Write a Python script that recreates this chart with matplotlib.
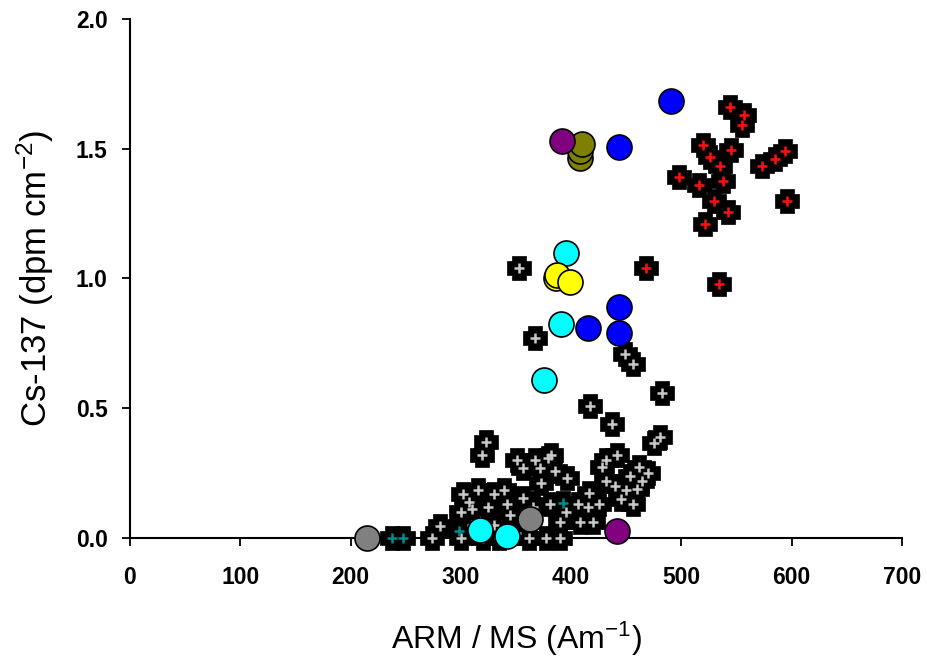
import matplotlib
matplotlib.use("Agg")
import matplotlib.pyplot as plt
from matplotlib.path import Path
import numpy as np

plt.rcParams['mathtext.default'] = 'regular'

# ---- data ----
# black crosses with grey centre
grey_x = [353, 367, 449, 456, 482, 417, 437, 481, 475, 323, 319,
          442, 432, 428, 462, 453, 464, 432, 450, 416, 406, 425, 456, 381,
          396, 385, 379, 408, 377, 274, 281, 307, 316, 325, 302, 339, 342,
          356, 351, 367, 382, 372, 356, 390, 362, 350, 330, 310, 300, 335,
          345, 365, 395, 420, 440, 445, 470, 460, 415, 330, 300, 310, 320,
          390, 373]
grey_y = [1.04, 0.77, 0.71, 0.67, 0.56, 0.51, 0.44, 0.39, 0.365, 0.37, 0.32,
          0.32, 0.30, 0.275, 0.275, 0.24, 0.22, 0.22, 0.185, 0.175, 0.13, 0.13, 0.13, 0.13,
          0.23, 0.26, 0.31, 0.06, 0.0, 0.0, 0.045, 0.14, 0.185, 0.12, 0.17, 0.185, 0.13,
          0.155, 0.30, 0.30, 0.32, 0.27, 0.27, 0.0, 0.0, 0.02, 0.05, 0.05, 0.0, 0.0,
          0.09, 0.12, 0.10, 0.06, 0.20, 0.15, 0.25, 0.19, 0.12, 0.17, 0.10, 0.11, 0.0,
          0.06, 0.21]
# black crosses with teal centre
teal_x = [238, 248, 298, 393]
teal_y = [0.0, 0.0, 0.025, 0.135]
# black crosses with red centre
red_x = [544, 555, 557, 520, 545, 535, 573, 585, 594, 498, 516, 538, 530,
         542, 521, 596, 468, 534, 526]
red_y = [1.66, 1.59, 1.63, 1.515, 1.495, 1.435, 1.435, 1.46, 1.49, 1.39, 1.36,
         1.375, 1.30, 1.255, 1.21, 1.30, 1.04, 0.98, 1.47]
# circles
grey_c_x = [215, 363]
grey_c_y = [0.0, 0.072]
cyan_x = [317, 342, 375, 391, 395]
cyan_y = [0.031, 0.008, 0.61, 0.825, 1.097]
yellow_x = [386, 387, 399]
yellow_y = [1.0, 1.013, 0.985]
blue_x = [491, 443, 443, 443, 415.5]
blue_y = [1.685, 1.506, 0.891, 0.789, 0.808]
olive_x = [408, 408, 409.5]
olive_y = [1.465, 1.49, 1.52]
purple_x = [392, 442]
purple_y = [1.53, 0.028]

xticks = [0, 100, 200, 300, 400, 500, 600, 700]
yticks = [0.0, 0.5, 1.0, 1.5, 2.0]

# ---- figure ----
fig = plt.figure(figsize=(9.27, 6.58), dpi=100)
ax = fig.add_axes([0.1402, 0.1824, 0.973 - 0.1402, 0.9711 - 0.1824])

a, b = 0.27, 0.5
cross = Path([(-a, -b), (a, -b), (a, -a), (b, -a), (b, a), (a, a), (a, b),
              (-a, b), (-a, a), (-b, a), (-b, -a), (-a, -a), (-a, -b)],
             [Path.MOVETO] + [Path.LINETO] * 11 + [Path.CLOSEPOLY])

def crosses(xs, ys, inner):
    ax.plot(xs, ys, linestyle='none', marker=cross, markersize=17.5,
            markerfacecolor='black', markeredgecolor='black', markeredgewidth=0.5,
            zorder=3, clip_on=False)
    ax.plot(xs, ys, linestyle='none', marker='+', markersize=7,
            markeredgecolor=inner, markeredgewidth=1.8, zorder=4, clip_on=False)

crosses(grey_x, grey_y, '#c8c8c8')
crosses(teal_x, teal_y, '#008c8c')
crosses(red_x, red_y, '#ff1010')

def circles(xs, ys, color):
    ax.plot(xs, ys, linestyle='none', marker='o', markersize=18,
            markerfacecolor=color, markeredgecolor='black', markeredgewidth=1.2,
            zorder=5, clip_on=False)

circles(grey_c_x, grey_c_y, '#808080')
circles(cyan_x, cyan_y, '#00ffff')
circles(yellow_x, yellow_y, '#ffff00')
circles(blue_x, blue_y, '#0000ff')
circles(olive_x, olive_y, '#808000')
circles(purple_x, purple_y, '#800080')

ax.set_xlim(0, 700)
ax.set_ylim(0, 2.0)
ax.set_xticks(xticks)
ax.set_yticks(yticks)
ax.set_xticklabels([str(t) for t in xticks])
ax.set_yticklabels([f"{t:.1f}" for t in yticks])
for s in ['top', 'right']:
    ax.spines[s].set_visible(False)
for s in ['left', 'bottom']:
    ax.spines[s].set_linewidth(1.5)
ax.tick_params(direction='out', length=6, width=1.3)
ax.tick_params(axis='x', pad=14)
ax.tick_params(axis='y', pad=10)
for lab in ax.get_xticklabels():
    lab.set_fontfamily(['Liberation Sans Narrow', 'Liberation Sans', 'DejaVu Sans'])
    lab.set_fontweight('bold')
    lab.set_fontsize(16.5)
for lab in ax.get_yticklabels():
    lab.set_fontfamily(['Liberation Sans', 'DejaVu Sans'])
    lab.set_fontweight('bold')
    lab.set_fontsize(16.5)

ax.set_xlabel('ARM / MS (Am$^{-1}$)', fontsize=23,
              family=['Liberation Sans Narrow', 'Liberation Sans', 'DejaVu Sans'],
              labelpad=22)
ax.set_ylabel('Cs-137 (dpm cm$^{-2}$)', fontsize=25,
              family=['Liberation Sans', 'DejaVu Sans'], labelpad=14)

fig.savefig('out.png', dpi=100)
